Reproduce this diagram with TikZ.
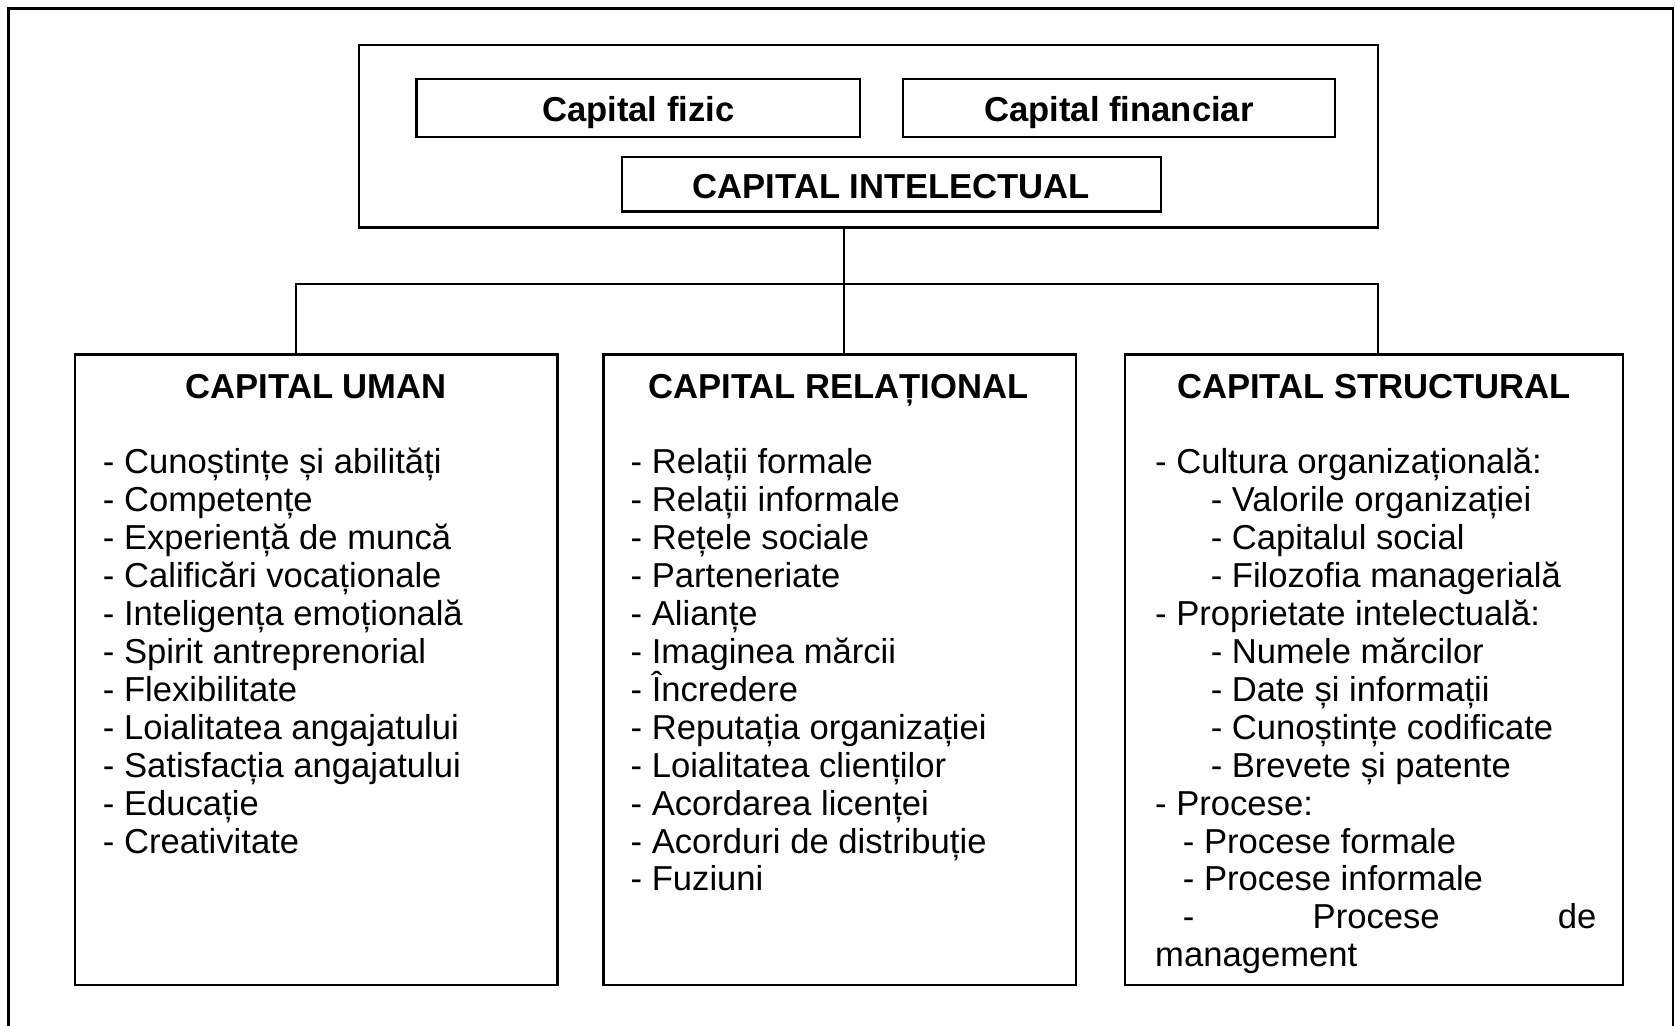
\documentclass[tikz,border=0pt]{standalone}
\usepackage{fontspec}
\setmainfont{Liberation Sans}
\begin{document}
\begin{tikzpicture}[x=0.5pt,y=-0.5pt,
  frame/.style={line width=1.1pt},
  box/.style={draw, line width=1.1pt, inner sep=0pt, outer sep=0pt},
  boxtext/.style={font=\fontsize{16.2}{19}\selectfont\bfseries, inner sep=0pt},
  head/.style={font=\fontsize{16.2}{19}\selectfont\bfseries, inner sep=0pt, anchor=base},
  item/.style={font=\fontsize{16.2}{19}\selectfont, inner sep=0pt, anchor=base west}]
\useasboundingbox (0,0) rectangle (1568,960);

% outer frame (its lower edge lies beyond the page)
\draw[frame] (8,960) -- (8,8) -- (1566,8) -- (1566,960);

% upper group
\node[box, minimum width=477pt, minimum height=85.5pt] (top) at (813,127.5) {};
\node[box, minimum width=207.5pt, minimum height=27pt] (fizic) at (597.5,101) {};
\node[box, minimum width=202.5pt, minimum height=27pt] (financiar) at (1047.5,101) {};
\node[box, minimum width=252.5pt, minimum height=25.5pt] (intel) at (834.5,172.5) {};
\node[boxtext] (fizict) at ([yshift=-2pt]fizic.center) {Capital fizic};
\node[boxtext] (financiart) at ([yshift=-2pt]financiar.center) {Capital financiar};
\node[boxtext] (intelt) at ([yshift=-1pt]intel.center) {CAPITAL INTELECTUAL};

% the three components
\node[box, minimum width=226pt, minimum height=295pt] (uman) at (296,627) {};
\node[box, minimum width=221pt, minimum height=295pt] (rel) at (786,627) {};
\node[box, minimum width=233pt, minimum height=295pt] (struct) at (1286,627) {};

\node[head] (humanhead) at (296,373) {CAPITAL UMAN};
\node[head] (relhead) at (785,373) {CAPITAL RELAȚIONAL};
\node[head] (structhead) at (1286,373) {CAPITAL STRUCTURAL};

% connectors
\coordinate (j) at (790,266);
\coordinate (bl) at (277,266);
\coordinate (br) at (1290,266);
\draw[frame] (j |- top.south) -- (j |- rel.north);
\draw[frame] (bl |- uman.north) -- (bl) -- (br) -- (br |- struct.north);

% human capital
\foreach \t [count=\i] in {- Cunoștințe și abilități, - Competențe, - Experiență de muncă,
  - Calificări vocaționale, - Inteligența emoțională, - Spirit antreprenorial,
  - Flexibilitate, - Loialitatea angajatului, - Satisfacția angajatului,
  - Educație, - Creativitate}
  \node[item] (u\i) at (96,{443.5+35.5*(\i-1)}) {\t};

% relational capital
\foreach \t [count=\i] in {- Relații formale, - Relații informale, - Rețele sociale,
  - Parteneriate, - Alianțe, - Imaginea mărcii, - Încredere, - Reputația organizației,
  - Loialitatea clienților, - Acordarea licenței, - Acorduri de distribuție, - Fuziuni}
  \node[item] (r\i) at (590,{443.5+35.5*(\i-1)}) {\t};

% structural capital
\foreach \x/\t [count=\i] in {1081/- Cultura organizațională:, 1133/- Valorile organizației,
  1133/- Capitalul  social, 1133/- Filozofia managerială, 1081/- Proprietate intelectuală:,
  1133/- Numele  mărcilor, 1133/- Date  și informații, 1133/- Cunoștințe  codificate,
  1133/- Brevete  și patente, 1081/- Procese:, 1107/- Procese formale,
  1107/- Procese informale}
  \node[item] (s\i) at (\x,{443.5+35.5*(\i-1)}) {\t};
\node[item] (s13) at (1107,{443.5+35.5*12}) {\makebox[193.5pt]{-\hfill Procese\hfill de}};
\node[item] (s14) at (1081,{443.5+35.5*13}) {management};
\end{tikzpicture}
\end{document}
